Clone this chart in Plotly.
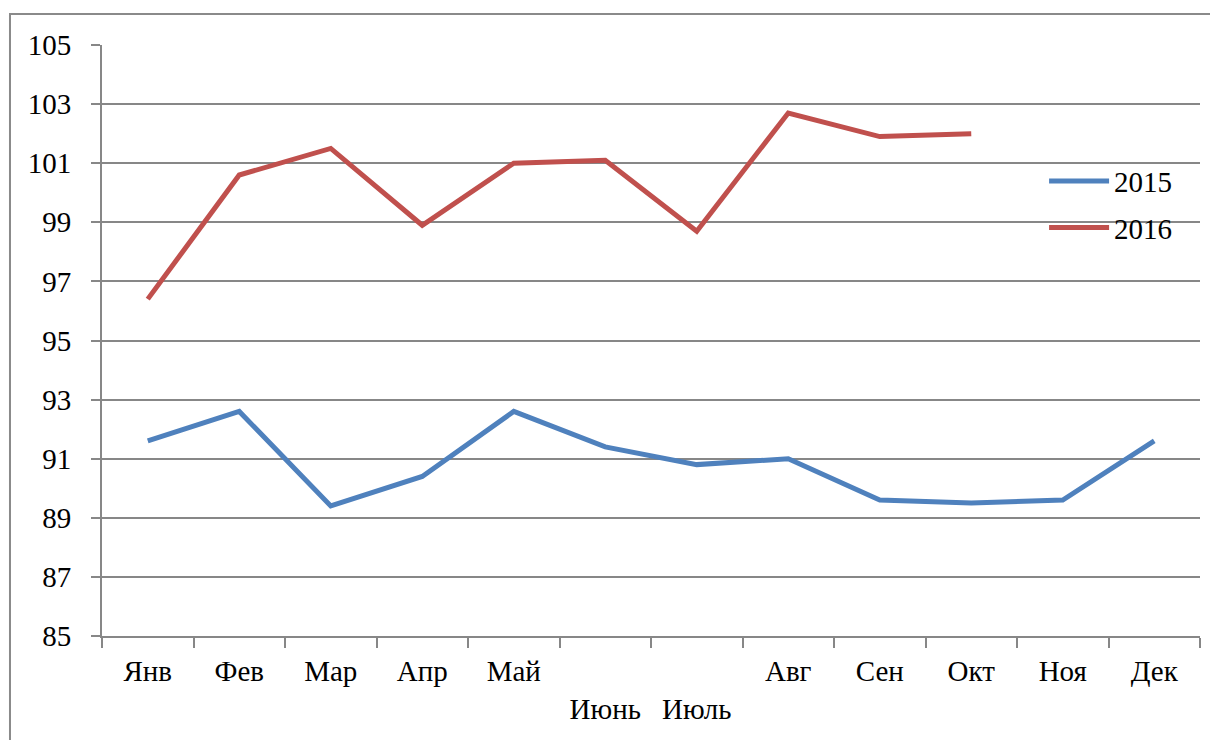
import plotly.graph_objects as go

months = ["Янв", "Фев", "Мар", "Апр", "Май", "Июнь", "Июль", "Авг", "Сен", "Окт", "Ноя", "Дек"]
tick_text = ["Янв", "Фев", "Мар", "Апр", "Май", "<br>Июнь", "<br>Июль", "Авг", "Сен", "Окт", "Ноя", "Дек"]
values_2015 = [91.6, 92.6, 89.4, 90.4, 92.6, 91.4, 90.8, 91.0, 89.6, 89.5, 89.6, 91.6]
values_2016 = [96.4, 100.6, 101.5, 98.9, 101.0, 101.1, 98.7, 102.7, 101.9, 102.0, None, None]
y_ticks = list(range(85, 106, 2))

FONT = "Liberation Serif"
GRID = "#878787"

fig = go.Figure()
fig.add_trace(go.Scatter(x=months, y=values_2015, mode="lines", name="2015",
                         line=dict(color="#4F81BD", width=5), legendgroup="a"))
fig.add_trace(go.Scatter(x=months, y=values_2016, mode="lines", name="2016",
                         line=dict(color="#C0504D", width=5), legendgroup="b"))

fig.update_layout(
    width=1210, height=732,
    margin=dict(l=94, r=18, t=37, b=104),
    paper_bgcolor="white", plot_bgcolor="white",
    font=dict(family=FONT, size=29, color="black"),
    showlegend=True,
    legend=dict(x=0.858, y=0.73, xanchor="left", yanchor="middle",
                bgcolor="rgba(0,0,0,0)", tracegroupgap=6,
                font=dict(family=FONT, size=29, color="black"), itemwidth=60),
    xaxis=dict(type="category", categoryorder="array", categoryarray=months,
               tickmode="array", tickvals=months, ticktext=tick_text,
               range=[-0.5, 11.5], tickson="boundaries", ticks="outside", ticklen=10,
               tickwidth=2, tickcolor=GRID, showline=True, linecolor=GRID, linewidth=2,
               showgrid=False, zeroline=False, ticklabelstandoff=8,
               tickfont=dict(family=FONT, size=29)),
    yaxis=dict(range=[85, 105], tickmode="array", tickvals=y_ticks,
               ticks="outside", ticklen=9, tickwidth=2, tickcolor=GRID,
               showline=True, linecolor=GRID, linewidth=2,
               showgrid=True, gridcolor=GRID, gridwidth=2, zeroline=False,
               ticklabelstandoff=14, tickfont=dict(family=FONT, size=29)),
    shapes=[dict(type="rect", xref="paper", yref="paper",
                 x0=-0.0838, x1=1.2, y0=-0.5, y1=1.0525,
                 line=dict(color="#8a8a8a", width=2), fillcolor="rgba(0,0,0,0)", layer="below")],
)

fig.write_html("out.html")
